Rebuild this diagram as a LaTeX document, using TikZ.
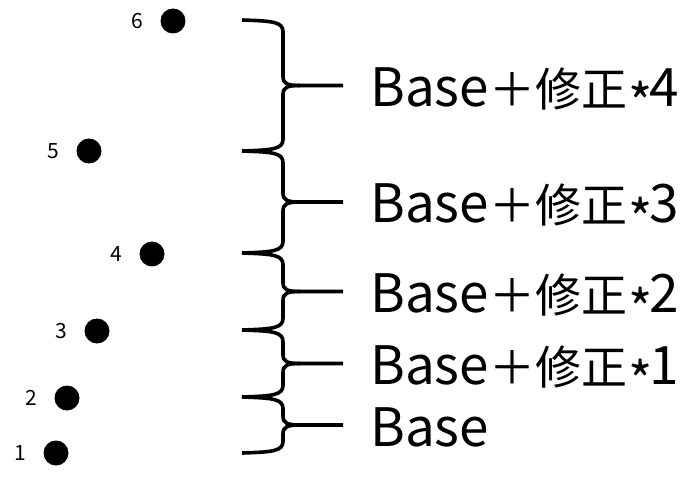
\documentclass[tikz,border=0pt]{standalone}
\usepackage{fontspec}
\newfontfamily\cjkfont{Noto Sans CJK SC}
\usetikzlibrary{positioning}
\newcommand{\corr}{{\fontsize{46}{46}\selectfont ＋修正}}
\newcommand{\vezes}{{\fontsize{52}{52}\selectfont\kern1pt\raisebox{-16pt}{*}\kern-3pt}}
\begin{document}
\begin{tikzpicture}[x=1pt,y=-1pt,
    ponto/.style={circle, fill=black, inner sep=0pt, minimum size=25pt},
    numero/.style={font=\cjkfont\fontsize{21}{21}\selectfont, inner sep=0pt},
    chave/.style={line width=3.6pt},
    rotulo/.style={font=\cjkfont\fontsize{53}{53}\selectfont, inner sep=0pt}]
    \useasboundingbox (0,0) rectangle (685,478);

    % Pontos numerados
    \node[ponto] (p6) at (173,21) {};
    \node[ponto] (p5) at (89,151) {};
    \node[ponto] (p4) at (152,254) {};
    \node[ponto] (p3) at (97,331) {};
    \node[ponto] (p2) at (67,398) {};
    \node[ponto] (p1) at (56,453) {};
    \node[numero, left=17pt of p6] (n6) {6};
    \node[numero, left=17pt of p5] (n5) {5};
    \node[numero, left=17pt of p4] (n4) {4};
    \node[numero, left=17pt of p3] (n3) {3};
    \node[numero, left=17pt of p2] (n2) {2};
    \node[numero, left=17pt of p1] (n1) {1};

    % Chaves entre os pontos
    \foreach \ya/\yb/\n in {20/151/4, 151/253/3, 253/330/2, 330/397/1, 397/453/0} {
        \pgfmathsetmacro{\ym}{(\ya+\yb)/2}
        \coordinate (tip\n) at (343,\ym);
        \draw[chave] (242,\ya) .. controls (274,\ya+1) and (283,\ya+2) .. (283,\ya+12)
            -- (283,\ym-9) .. controls (283,\ym-2) and (287,\ym) .. (300,\ym) -- (tip\n);
        \draw[chave] (242,\yb) .. controls (274,\yb-1) and (283,\yb-2) .. (283,\yb-12)
            -- (283,\ym+9) .. controls (283,\ym+2) and (287,\ym) .. (300,\ym);
    }

    % Textos
    \node[rotulo, right=27pt of tip4, anchor=base west, yshift=-21pt] (t4) {Base\corr\vezes4};
    \node[rotulo, right=27pt of tip3, anchor=base west, yshift=-21pt] (t3) {Base\corr\vezes3};
    \node[rotulo, right=27pt of tip2, anchor=base west, yshift=-21pt] (t2) {Base\corr\vezes2};
    \node[rotulo, right=27pt of tip1, anchor=base west, yshift=-21pt] (t1) {Base\corr\vezes1};
    \node[rotulo, right=27pt of tip0, anchor=base west, yshift=-21pt] (t0) {Base};
\end{tikzpicture}
\end{document}
